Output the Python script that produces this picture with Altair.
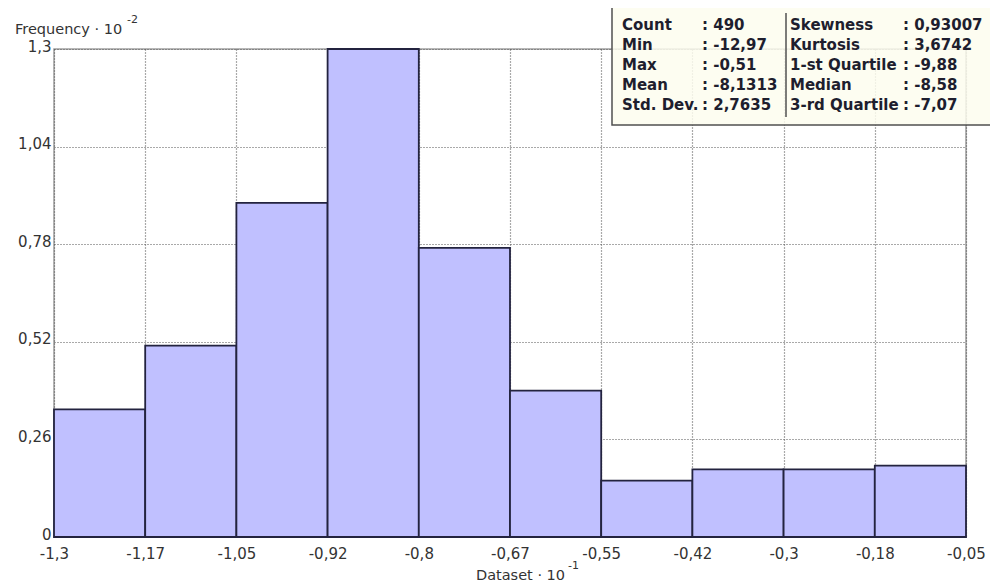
import altair as alt
import pandas as pd

# ---- data ----
edges = [-1.3, -1.175, -1.05, -0.925, -0.8, -0.675, -0.55, -0.425, -0.3, -0.175, -0.05]
edge_labels = ['-1,3', '-1,17', '-1,05', '-0,92', '-0,8', '-0,67', '-0,55', '-0,42', '-0,3', '-0,18', '-0,05']
freq = [0.34, 0.51, 0.89, 1.30, 0.77, 0.39, 0.15, 0.18, 0.18, 0.19]
y_ticks = [0, 0.26, 0.52, 0.78, 1.04, 1.3]
y_tick_labels = ['0', '0,26', '0,52', '0,78', '1,04', '1,3']

stat_names_left = ['Count', 'Min', 'Max', 'Mean', 'Std. Dev.']
stat_values_left = [': 490', ': -12,97', ': -0,51', ': -8,1313', ': 2,7635']
stat_names_right = ['Skewness', 'Kurtosis', '1-st Quartile', 'Median', '3-rd Quartile']
stat_values_right = [': 0,93007', ': 3,6742', ': -9,88', ': -8,58', ': -7,07']

FONT = 'DejaVu Sans'
TXT = '#333333'
GRID = '#555555'

hist = pd.DataFrame({'start': edges[:-1], 'end': edges[1:], 'freq': freq})

stats = pd.DataFrame({
    'name': stat_names_left + stat_names_right,
    'val': stat_values_left + stat_values_right,
    'col': [0] * 5 + [1] * 5,
    'row': list(range(5)) * 2,
})

x_label_expr = f"{edge_labels}[indexof({edges}, datum.value)]"
y_label_expr = f"{y_tick_labels}[indexof({y_ticks}, datum.value)]"

bars = alt.Chart(hist).mark_rect(
    fill='#c0c0ff', stroke='#23233f', strokeWidth=1.8
).encode(
    x=alt.X('start:Q',
            scale=alt.Scale(domain=[-1.3, -0.05], nice=False, zero=False),
            axis=alt.Axis(values=edges, labelExpr=x_label_expr, grid=True,
                          gridDash=[1, 2], gridColor=GRID, gridWidth=1.2,
                          ticks=False, domain=False, labelFont=FONT,
                          labelFontSize=15, labelColor=TXT, labelPadding=9,
                          labelOverlap=False, labelFlush=False, labelBound=False,
                          title=None)),
    x2='end:Q',
    y=alt.Y('freq:Q',
            scale=alt.Scale(domain=[0, 1.3], nice=False),
            axis=alt.Axis(values=y_ticks, labelExpr=y_label_expr, grid=True,
                          gridDash=[1, 2], gridColor=GRID, gridWidth=1.2,
                          ticks=False, domain=False, labelFont=FONT,
                          labelFontSize=15, labelColor=TXT, labelPadding=3,
                          labelOffset=-3,
                          labelOverlap=False, labelFlush=False, labelBound=False,
                          title=None)),
    y2=alt.datum(0),
)

one = pd.DataFrame({'a': [0]})

box = alt.Chart(one).mark_rect(
    fill='#fdfdee', fillOpacity=0.85, stroke='#505050', strokeWidth=1.5
).encode(x=alt.value(558), x2=alt.value(1000), y=alt.value(-60), y2=alt.value(76))

divider = alt.Chart(one).mark_rule(color='#505050', strokeWidth=1.5).encode(
    x=alt.value(732), y=alt.value(-36), y2=alt.value(68))

base_stats = alt.Chart(stats).transform_calculate(
    ypix='-24 + 20 * datum.row',
    xname='568 + 168 * datum.col',
    xval='648 + 201 * datum.col',
)
stat_kw = dict(align='left', baseline='middle', fontWeight='bold', fontSize=15,
               font=FONT, color='#1e1e2e')
names = base_stats.mark_text(**stat_kw).encode(
    x=alt.X('xname:Q', scale=None, axis=None),
    y=alt.Y('ypix:Q', scale=None, axis=None),
    text='name:N')
vals = base_stats.mark_text(**stat_kw).encode(
    x=alt.X('xval:Q', scale=None, axis=None),
    y=alt.Y('ypix:Q', scale=None, axis=None),
    text='val:N')

ytitle = alt.Chart(one).mark_text(align='left', baseline='middle', font=FONT,
                                  fontSize=14.5, color=TXT).encode(
    x=alt.value(-39), y=alt.value(-19), text=alt.value('Frequency · 10'))
ysup = alt.Chart(one).mark_text(align='left', baseline='middle', font=FONT,
                                fontSize=11, color=TXT).encode(
    x=alt.value(73), y=alt.value(-29), text=alt.value('-2'))
xtitle = alt.Chart(one).mark_text(align='left', baseline='bottom', font=FONT,
                                  fontSize=14.5, color=TXT).encode(
    x=alt.value(422), y=alt.value(534), text=alt.value('Dataset · 10'))
xsup = alt.Chart(one).mark_text(align='left', baseline='middle', font=FONT,
                                fontSize=11, color=TXT).encode(
    x=alt.value(514), y=alt.value(517), text=alt.value('-1'))

chart = alt.layer(bars, box, divider, names, vals, ytitle, ysup, xtitle, xsup).properties(
    width=912, height=488,
    autosize=alt.AutoSizeParams(type='none'),
    padding={'left': 46, 'top': 41, 'right': 24, 'bottom': 46},
    background='white',
).configure_view(stroke='#a0a0a0', strokeWidth=1.5)

chart.save('out.html', embed_options={'renderer': 'svg', 'actions': False})
